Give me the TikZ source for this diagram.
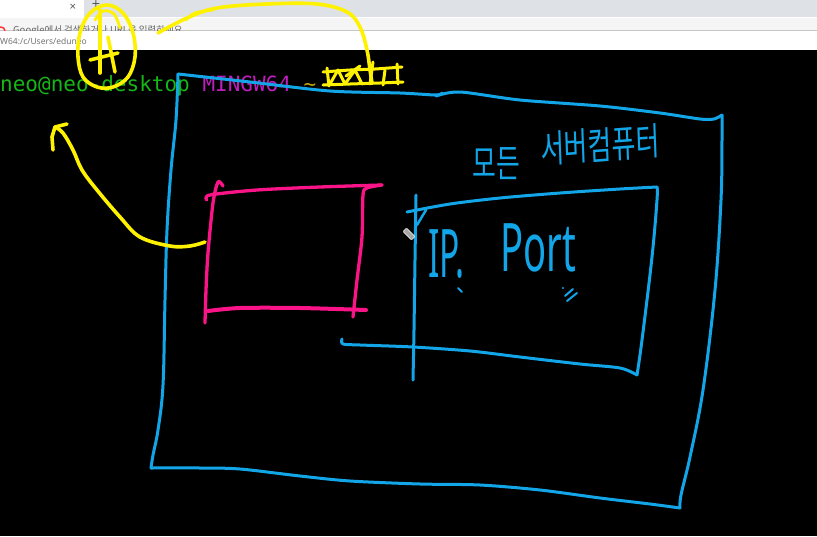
\documentclass[tikz,border=0pt]{standalone}
\usepackage{fontspec}
\newfontfamily\monofont{DejaVu Sans Mono}
\newfontfamily\krfont{Noto Sans CJK KR}
\newfontfamily\handfont{Noto Sans}
\newfontfamily\uifont{DejaVu Sans}
\definecolor{skyb}{RGB}{18,166,232}
\definecolor{hotp}{RGB}{250,20,135}
\definecolor{yel}{RGB}{255,242,0}
\definecolor{tgreen}{RGB}{22,182,22}
\definecolor{tmag}{RGB}{190,30,190}
\definecolor{ttil}{RGB}{190,165,10}
\definecolor{tabgray}{RGB}{222,225,230}
\begin{document}
\begin{tikzpicture}[x=1pt,y=-1pt,line cap=round,line join=round,
  bl/.style={draw=skyb,line width=3pt},
  pk/.style={draw=hotp,line width=3.3pt},
  yl/.style={draw=yel,line width=3.6pt},
  mono/.style={anchor=base west,inner sep=0pt,font=\monofont\fontsize{21}{21}\selectfont}]
\useasboundingbox (0,0) rectangle (817,536);
% ---------- window chrome ----------
\fill[black] (0,0) rectangle (817,536);
\fill[white] (0,0) rectangle (817,50);
\fill[tabgray] (84,0) rectangle (817,17);
\fill[white!96!black] (0,17.5) rectangle (817,30);
\draw[gray!45,line width=0.8pt] (0,30.5) -- (817,30.5);
\node[font=\uifont\fontsize{9}{9}\selectfont,text=black!70,inner sep=0pt] (closex) at (73,7) {×};
\node[font=\uifont\fontsize{11}{11}\selectfont,text=black!70,inner sep=0pt] (plus) at (96,4) {+};
\begin{scope}
\clip (0,17.5) rectangle (817,30);
\draw[red!80,line width=1.5pt] (5,31) arc[start angle=0,end angle=-150,radius=4];
\node[anchor=base west,inner sep=0pt,font=\krfont\fontsize{9.5}{9.5}\selectfont,text=black!60] (gsearch) at (13,33.5) {Google에서 검색하거나 URL을 입력하세요};
\end{scope}
\node[anchor=west,inner sep=0pt,font=\handfont\fontsize{8.5}{8.5}\selectfont,text=black!55] (path) at (0,41) {W64:/c/Users/eduneo};
% ---------- terminal prompt ----------
\node[mono,text=tgreen] (prompt) at (0,91) {neo@neo-desktop};
\node[mono,text=tmag] (mingw) at (202.3,91) {MINGW64};
\node[mono,text=ttil] (tilde) at (303.4,91) {\char`\~};
% ---------- outer blue box ----------
\draw[bl] plot[smooth,tension=0.6] coordinates {(178,74) (176,120) (171,170) (167,230) (165,300) (163,385) (158,430) (153,455) (151,468)};
\draw[bl] plot[smooth,tension=0.5] coordinates {(178,74) (250,82) (330,91) (400,93) (436,95) (442,93)};
\draw[bl] plot[smooth,tension=0.5] coordinates {(436,96) (460,92) (520,100) (600,106) (660,113) (700,119) (714,119) (722,115)};
\draw[bl] plot[smooth,tension=0.6] coordinates {(722,115) (722,140) (721,200) (715,290) (703,390) (690,457) (681,495) (680,508)};
\draw[bl] plot[smooth,tension=0.5] coordinates {(151,468) (200,468) (240,469) (300,476) (350,481) (420,484) (480,485) (540,490) (600,498) (650,504) (680,508)};
% ---------- inner blue box ----------
\draw[bl] plot[smooth,tension=0.5] coordinates {(407,212) (450,204) (500,198) (560,193) (620,189) (657,187)};
\draw[bl] plot[smooth,tension=0.6] coordinates {(657,187) (657,200) (652,257) (642,340) (637,375)};
\draw[bl] plot[smooth,tension=0.5] coordinates {(342,339) (343,344) (360,345) (413,347) (470,351) (520,357) (580,364) (620,368) (637,375)};
\draw[bl] plot[smooth,tension=0.5] coordinates {(416,195) (415,260) (414,330) (413,380)};
\draw[bl,line width=2.5pt] (417,225) -- (426,210);
\node[anchor=base west,inner sep=0pt,text=skyb,xscale=0.5,font=\handfont\fontsize{67}{67}\selectfont] (ip) at (428,277) {IP.};
\node[anchor=base west,inner sep=0pt,text=skyb,xscale=0.57,font=\handfont\fontsize{67}{67}\selectfont] (port) at (500,271) {Port};
\draw[bl,line width=2pt] (458,288) -- (462,292);
\draw[bl,line width=2pt] (565,296) -- (573,289);
\draw[bl,line width=2pt] (567,301) -- (577,293);
\fill[skyb] (563,288) circle (1.2);
\node[text=skyb,xscale=0.68,inner sep=0pt,font=\krfont\fontsize{38}{38}\selectfont] (all) at (496,164) {모든};
\node[text=skyb,xscale=0.68,rotate=3,inner sep=0pt,font=\krfont\fontsize{38}{38}\selectfont] (srv) at (600,145) {서버컴퓨터};
% ---------- pink box ----------
\draw[pk] plot[smooth,tension=0.5] coordinates {(207,200) (210,195) (257,190) (320,187) (382,185)};
\draw[pk] plot[smooth,tension=0.5] coordinates {(223,186) (218,182) (213,203) (208,253) (206,290) (205,323)};
\draw[pk] plot[smooth,tension=0.5] coordinates {(382,185) (367,188) (363,195) (362,237) (357,280) (353,317)};
\draw[pk,line width=4pt] plot[smooth,tension=0.5] coordinates {(208,311) (240,308) (300,308) (366,310)};
% ---------- yellow arrow ----------
\draw[yl] plot[smooth,tension=0.6] coordinates {(205,242) (190,246) (170,246) (140,237) (120,217) (97,190) (82,170) (73,150) (63,133) (55,127)};
\draw[yl] (53,150) -- (52,137) -- (55,127) -- (67,124);
% ---------- yellow circle with mark ----------
\draw[yl] plot[smooth cycle,tension=0.6] coordinates {(107,5) (123,13) (133,33) (135,57) (128,77) (113,87) (97,87) (83,77) (78,57) (80,33) (90,13)};
\draw[yl,line width=2.8pt] plot[smooth,tension=0.6] coordinates {(95,20) (103,11) (114,14) (120,28)};
\draw[yl] (100,10) -- (100,73);
\draw[yl] (108,37) -- (115,72);
\draw[yl] (90,60) -- (118,53);
% ---------- yellow long curve ----------
\draw[yl] plot[smooth,tension=0.6] coordinates {(158,33) (187,18) (217,8) (267,4) (317,4) (347,12) (360,27) (367,50) (370,70) (372,83)};
\draw[yl,line width=2.8pt] plot[smooth,tension=0.6] coordinates {(186,20) (195,13) (213,10)};
% ---------- yellow scribble ----------
\draw[yl,line width=3pt] plot[smooth,tension=0.4] coordinates {(323,72) (350,70) (375,69) (402,67)};
\draw[yl,line width=3pt] plot[smooth,tension=0.4] coordinates {(323,85) (350,84) (380,83) (403,82)};
\draw[yl,line width=3pt] (327,68) -- (329,86);
\draw[yl,line width=3pt] (330,84) -- (338,70) -- (345,84) -- (355,70) -- (362,84);
\draw[yl,line width=3pt] (373,62) -- (370,84);
\draw[yl,line width=3pt] (385,70) -- (383,85);
\draw[yl,line width=3pt] (397,64) -- (398,84);
\draw[yl,line width=3pt] (346,76) -- (360,66);
% ---------- pencil cursor ----------
\node[draw=white,fill=gray!70,rotate=-45,minimum width=12pt,minimum height=5pt,inner sep=0pt,rounded corners=1pt,line width=0.6pt] (pen) at (409,234) {};
\end{tikzpicture}
\end{document}
